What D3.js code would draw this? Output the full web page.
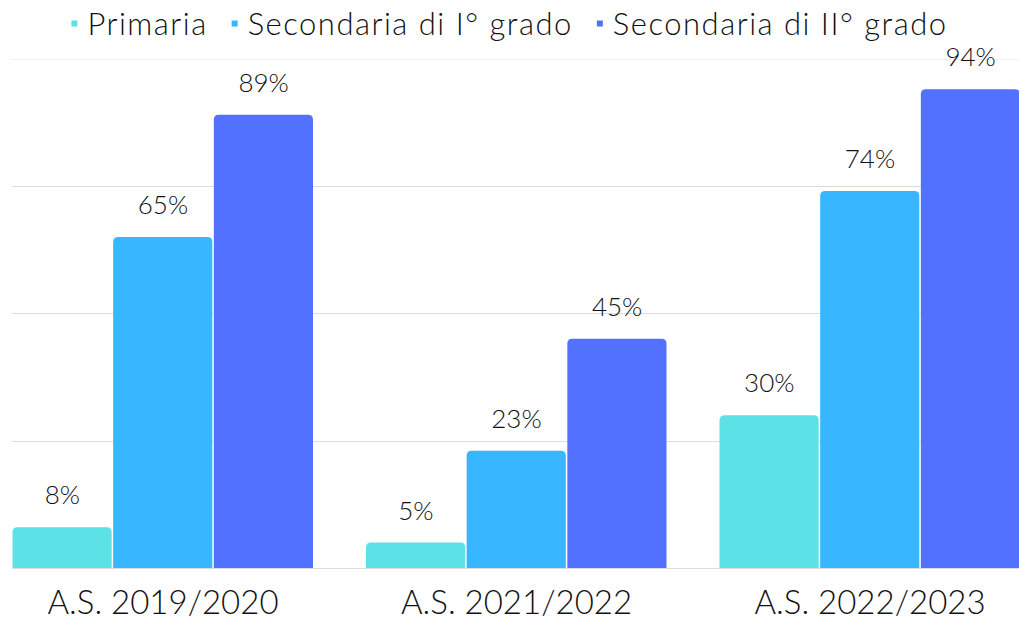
<!DOCTYPE html>
<html lang="it">
<head>
<meta charset="UTF-8" />
<style>
  body { margin: 0; background: #fff; }
  text { font-family: "Lato", "Noto Sans", sans-serif; font-weight: 300; fill: #111; }
</style>
</head>
<body>
<svg width="1019" height="620"></svg>
<script src="https://d3js.org/d3.v7.min.js"></script>
<script>
var categories = ["A.S. 2019/2020", "A.S. 2021/2022", "A.S. 2022/2023"];
var seriesNames = ["Primaria", "Secondaria di I° grado", "Secondaria di II° grado"];
var primaria = [8, 5, 30];
var secondariaI = [65, 23, 74];
var secondariaII = [89, 45, 94];
var colors = ["#5ce1e6", "#38b6ff", "#5271ff"];
var yTicks = [0, 25, 50, 75, 100];

var seriesValues = [primaria, secondariaI, secondariaII];

var svg = d3.select("svg"),
    width = +svg.attr("width"),
    height = +svg.attr("height");

var x0 = d3.scaleBand()
    .domain(categories)
    .range([12, 1021])
    .paddingInner(0.1457)
    .paddingOuter(0);

var x1 = d3.scaleBand()
    .domain(seriesNames)
    .range([0, x0.bandwidth()]);

var y = d3.scaleLinear()
    .domain([0, 100])
    .range([568, 58.7]);

var color = d3.scaleOrdinal().domain(seriesNames).range(colors);

// gridlines
svg.append("g")
    .selectAll("line")
    .data(yTicks)
    .enter().append("line")
    .attr("x1", 12)
    .attr("x2", width)
    .attr("y1", function (d) { return Math.round(y(d)) + 0.5; })
    .attr("y2", function (d) { return Math.round(y(d)) + 0.5; })
    .style("stroke", function (d) { return d === 100 ? "#efefef" : "#dcdcdc"; })
    .style("stroke-width", 1);

// bars with rounded top corners
function topRounded(x, yTop, w, h, r) {
    r = Math.min(r, h, w / 2);
    return "M" + x + "," + (yTop + h) +
        "V" + (yTop + r) +
        "Q" + x + "," + yTop + " " + (x + r) + "," + yTop +
        "H" + (x + w - r) +
        "Q" + (x + w) + "," + yTop + " " + (x + w) + "," + (yTop + r) +
        "V" + (yTop + h) + "Z";
}

var rows = [];
categories.forEach(function (c, i) {
    seriesNames.forEach(function (s, j) {
        rows.push({ cat: c, series: s, value: seriesValues[j][i] });
    });
});

var bars = svg.append("g");

bars.selectAll("path")
    .data(rows)
    .enter().append("path")
    .attr("d", function (d) {
        var bx = x0(d.cat) + x1(d.series);
        return topRounded(bx + 0.5, y(d.value), x1.bandwidth() - 1.5, y(0) - y(d.value), 5);
    })
    .attr("fill", function (d) { return color(d.series); });

bars.selectAll("text")
    .data(rows)
    .enter().append("text")
    .attr("x", function (d) { return x0(d.cat) + x1(d.series) + x1.bandwidth() / 2; })
    .attr("y", function (d) { return y(d.value) - 23; })
    .attr("text-anchor", "middle")
    .style("font-size", "26px")
    .text(function (d) { return d.value + "%"; });

// category labels
svg.append("g")
    .selectAll("text")
    .data(categories)
    .enter().append("text")
    .attr("x", function (d) { return x0(d) + x0.bandwidth() / 2; })
    .attr("y", 614)
    .attr("text-anchor", "middle")
    .style("font-size", "33px")
    .text(function (d) { return d; });

// legend, centered
var legend = svg.append("g");
var items = legend.selectAll("g")
    .data(seriesNames)
    .enter().append("g");

items.append("rect")
    .attr("width", 6)
    .attr("height", 6)
    .attr("y", 20.5)
    .attr("fill", function (d) { return color(d); });

items.append("text")
    .attr("x", 16)
    .attr("y", 35)
    .style("font-size", "31px")
    .style("letter-spacing", "1.5px")
    .text(function (d) { return d; });

var offset = 0;
items.each(function () {
    var g = d3.select(this);
    g.attr("transform", "translate(" + offset + ",0)");
    offset += 16 + g.select("text").node().getComputedTextLength() + 24;
});
offset -= 24;
legend.attr("transform", "translate(" + ((width - offset) / 2) + ",0)");
</script>
</body>
</html>
